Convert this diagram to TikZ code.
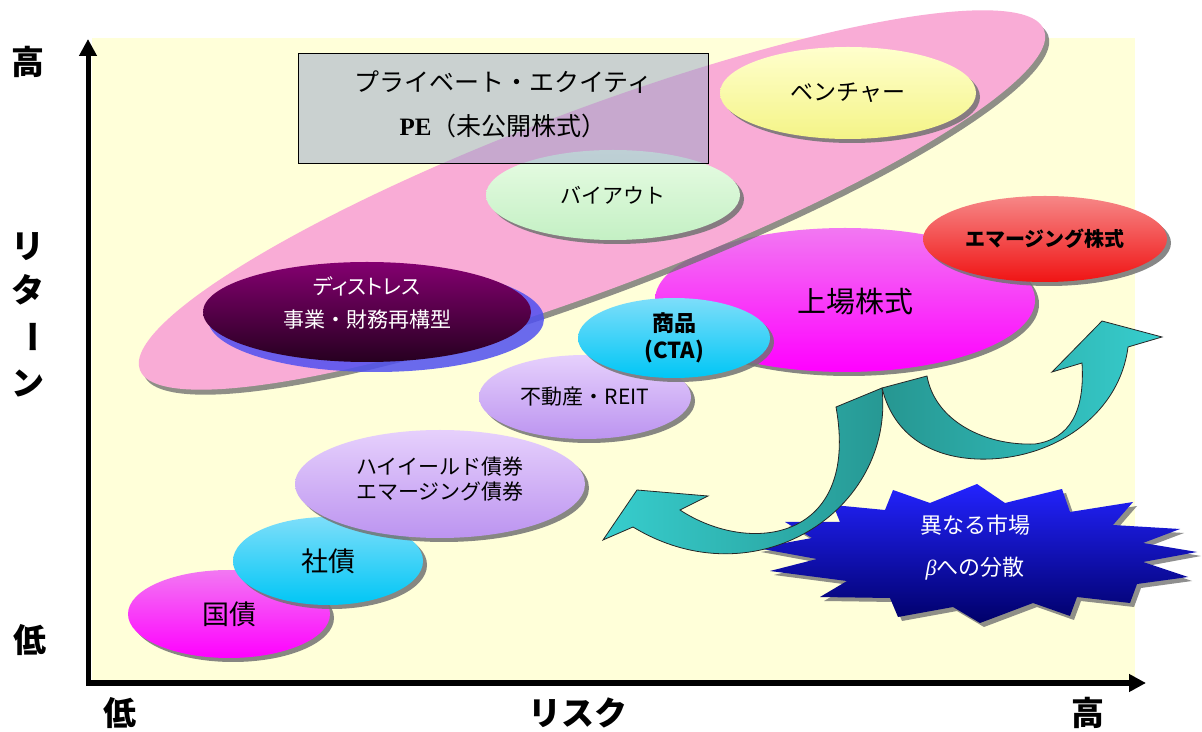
\documentclass[tikz,border=0pt]{standalone}
\usepackage{fontspec}
\setmainfont{Noto Sans CJK JP}
\newfontfamily\jpprop{Noto Sans CJK JP}[RawFeature=+palt]
\newfontfamily\serifb{Liberation Serif}
\usetikzlibrary{arrows.meta,shapes.geometric,shadows}
\newcommand\fsz[2]{\fontsize{#1}{#2}\selectfont}
\definecolor{bgyel}{RGB}{255,255,217}
\definecolor{pinkpe}{RGB}{249,172,214}
\definecolor{shadowgray}{RGB}{115,115,115}
\definecolor{magtop}{RGB}{242,120,242}
\definecolor{magbot}{RGB}{255,0,255}
\definecolor{cyantop}{RGB}{125,222,250}
\definecolor{cyanbot}{RGB}{0,198,245}
\definecolor{liltop}{RGB}{230,208,252}
\definecolor{lilbot}{RGB}{188,148,240}
\definecolor{redtop}{RGB}{246,135,135}
\definecolor{redbot}{RGB}{240,20,20}
\definecolor{yeltop}{RGB}{255,255,205}
\definecolor{yelbot}{RGB}{244,244,135}
\definecolor{grntop}{RGB}{232,252,228}
\definecolor{grnbot}{RGB}{196,240,196}
\definecolor{distop}{RGB}{132,0,112}
\definecolor{disbot}{RGB}{38,0,32}
\definecolor{glowblue}{RGB}{80,80,240}
\definecolor{boxfill}{RGB}{150,165,200}
\definecolor{tealdark}{RGB}{38,150,145}
\definecolor{cyanlight}{RGB}{55,206,206}
\definecolor{startop}{RGB}{35,35,255}
\definecolor{starmid}{RGB}{0,0,225}
\definecolor{starbot}{RGB}{0,0,105}
\begin{document}
\begin{tikzpicture}[x=1pt,y=1pt,
  blob/.style={ellipse, inner sep=0pt, align=center,
    drop shadow={shadow xshift=4pt, shadow yshift=-4pt, fill=shadowgray, opacity=0.85}},
  lab/.style={inner sep=0pt, align=center, text=black},
  axlab/.style={inner sep=0pt, font=\fsz{33}{33}\bfseries},
  axis/.style={line width=5pt, -{Triangle[length=17pt,width=17pt]}},
  arrowribbon/.style={draw=black!85, line width=0.8pt},
]
\useasboundingbox (0,0) rectangle (1202,731);
\fill[white] (0,0) rectangle (1202,731);
\fill[bgyel] (92,51) rectangle (1135,693);

% listed equities (under the PE ellipse)
\node[blob, minimum width=380pt, minimum height=144pt, top color=magtop, bottom color=magbot] (jojo) at (845,431) {};
\node[lab, font=\fsz{29}{29}] (jojolab) at (855,429) {上場株式};

% private equity band
\node[ellipse, inner sep=0pt, fill=pinkpe, minimum width=966pt, minimum height=180pt, rotate=20.6,
  drop shadow={shadow xshift=4pt, shadow yshift=-5pt, fill=shadowgray, opacity=0.8}] (pe) at (592,531) {};

\node[blob, minimum width=256pt, minimum height=92pt, top color=yeltop, bottom color=yelbot,
  font=\fsz{23}{23}] (venture) at (848,638) {ベンチャー};
\node[blob, minimum width=254pt, minimum height=90pt, top color=grntop, bottom color=grnbot,
  font=\fsz{21}{21}] (buyout) at (613,536) {バイアウト};

\node[ellipse, inner sep=0pt, fill=glowblue, fill opacity=0.85, minimum width=336pt, minimum height=106pt] (distglow) at (376,412) {};
\node[ellipse, inner sep=0pt, top color=distop, bottom color=disbot, minimum width=328pt, minimum height=100pt] (distress) at (367,419) {};
\node[lab, text=white, font=\fsz{21}{33}] (distlab) at (367,428) {{\jpprop ディストレス}\\事業・財務再構型};

% PE box
\node[draw=black, line width=1pt, fill=boxfill, fill opacity=0.5, minimum width=410pt, minimum height=110pt] (pebox) at (503,622) {};
\node[lab, font=\fsz{25}{44}] (petext) at (503,627) {プライベート・エクイティ\\{\serifb\bfseries PE}（未公開株式）};

% other assets
\node[blob, minimum width=244pt, minimum height=86pt, top color=redtop, bottom color=redbot,
  font=\fsz{20}{20}\bfseries] (emeq) at (1045,492) {エマージング株式};
\node[blob, minimum width=202pt, minimum height=88pt, top color=magtop, bottom color=magbot,
  font=\fsz{27}{27}] (jgb) at (229,117) {国債};
\node[blob, minimum width=190pt, minimum height=88pt, top color=cyantop, bottom color=cyanbot,
  font=\fsz{27}{27}] (corp) at (328,170) {社債};
\node[blob, minimum width=290pt, minimum height=108pt, top color=liltop, bottom color=lilbot] (hy) at (440,247) {};
\node[lab, font=\fsz{21}{25}] (hylab) at (440,252) {ハイイールド債券\\エマージング債券};
\node[blob, minimum width=212pt, minimum height=84pt, top color=liltop, bottom color=lilbot,
  font=\fsz{21}{21}] (reit) at (585,334) {不動産・REIT};
\node[blob, minimum width=192pt, minimum height=80pt, top color=cyantop, bottom color=cyanbot,
  font=\fsz{22}{27}\bfseries] (cta) at (674,393) {商品\\(CTA)};

% burst
\fill[shadowgray, opacity=0.8, shift={(4pt,-4pt)}]
  (757,183) -- (812,193) -- (785,209) -- (840,209) -- (833,226) -- (885,221) -- (893,241) -- (930,228)
  -- (977,247) -- (1005,228) -- (1062,242) -- (1070,219) -- (1133,229) -- (1113,206) -- (1180,202)
  -- (1143,188) -- (1197,179) -- (1143,169) -- (1188,154) -- (1137,147) -- (1130,128) -- (1077,134)
  -- (1070,115) -- (1033,128) -- (980,108) -- (953,124) -- (898,114) -- (890,133) -- (820,134)
  -- (847,150) -- (770,160) -- (817,172) -- cycle;
\shade[top color=startop, middle color=starmid, bottom color=starbot]
  (757,183) -- (812,193) -- (785,209) -- (840,209) -- (833,226) -- (885,221) -- (893,241) -- (930,228)
  -- (977,247) -- (1005,228) -- (1062,242) -- (1070,219) -- (1133,229) -- (1113,206) -- (1180,202)
  -- (1143,188) -- (1197,179) -- (1143,169) -- (1188,154) -- (1137,147) -- (1130,128) -- (1077,134)
  -- (1070,115) -- (1033,128) -- (980,108) -- (953,124) -- (898,114) -- (890,133) -- (820,134)
  -- (847,150) -- (770,160) -- (817,172) -- cycle;
\node[lab, text=white, font=\fsz{22}{42}] (burstlab) at (975,183) {異なる市場\\{\serifb\itshape β}への分散};

% curved arrows
\shade[arrowribbon, left color=tealdark, right color=cyanlight]
  (882,343) .. controls (895,290) and (940,270) .. (990,272)
  .. controls (1060,275) and (1120,320) .. (1128,384)
  -- (1162,394) -- (1102,410) -- (1052,359) -- (1082,368)
  .. controls (1085,320) and (1070,292) .. (1035,287)
  .. controls (985,285) and (935,310) .. (927,355) -- cycle;
\shade[arrowribbon, left color=cyanlight, right color=tealdark]
  (680,221) .. controls (750,175) and (860,190) .. (836,324)
  -- (882,343) .. controls (895,220) and (755,130) .. (633,204)
  -- (603,191) -- (637,241) -- (708,235) -- cycle;

% axes
\coordinate (origin) at (88,48);
\coordinate (ytop) at (88,692);
\coordinate (xend) at (1146,48);
\coordinate (xstart) at (86,48);
\draw[axis] (origin) -- (ytop);
\draw[axis] (xstart) -- (xend);

\node[axlab] (yhigh) at (28,669) {高};
\node[axlab] (yr1) at (28,484) {リ};
\node[axlab] (yr2) at (28,441) {タ};
\node[axlab, rotate=-90] (yr3) at (28,394) {ー};
\node[axlab] (yr4) at (28,348) {ン};
\node[axlab] (ylow) at (30,91) {低};
\node[axlab] (xlow) at (120,18) {低};
\node[axlab] (xrisk) at (578,18) {リスク};
\node[axlab] (xhigh) at (1088,18) {高};
\end{tikzpicture}
\end{document}
